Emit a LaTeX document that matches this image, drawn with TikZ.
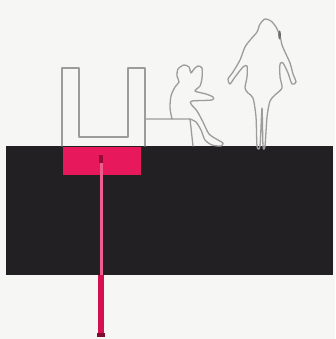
\documentclass[tikz,border=0pt]{standalone}
\definecolor{slab}{HTML}{232024}
\definecolor{hotpink}{HTML}{E8185C}
\definecolor{rodpink}{HTML}{D4104F}
\definecolor{figgray}{HTML}{9C9C9C}
\definecolor{paper}{HTML}{F6F6F4}
\begin{document}
\begin{tikzpicture}[x=1pt, y=-1pt, line join=round, line cap=round,
    outline/.style={draw=figgray, line width=1.3pt},
    person/.style={outline, smooth, tension=0.45}]
  \fill[paper] (0,0) rectangle (335,339);
  \useasboundingbox (0,0) rectangle (335,339);

  \coordinate (g1) at (6,146);
  \coordinate (g2) at (333,275);
  \coordinate (p1) at (63,147);
  \coordinate (p2) at (141,175);
  \coordinate (rodtop) at (101,156);
  \coordinate (rodmid) at (101,275);
  \coordinate (rodend) at (101,334);

  % ground slab and pink head plate
  \fill[slab] (g1) rectangle (g2);
  \fill[hotpink] (p1) rectangle (p2);
  \draw[hotpink!70!white, line width=3pt] (rodtop) -- (rodmid);
  \draw[rodpink, line width=6.5pt, line cap=butt] (rodmid) -- (rodend);
  \fill[rodpink!60!black] (97,333) rectangle (105,337);
  \fill[rodpink!70!black] (99,155) rectangle (103,163);

  % trough
  \draw[outline] (62,146) -- (62,68) -- (79,68) -- (79,137) -- (128,137)
    -- (128,68) -- (145,68) -- (145,146);

  % bench
  \draw[outline] (145,119) -- (190,119) -- (193,146);

  % sitting figure
  \draw[person] plot coordinates {(172,119) (170,108) (171,96) (175,87)
    (179,82) (177,76) (178,69) (184,65) (189,67) (191,73) (194,69)
    (198,66) (202,68) (202,78) (200,86) (195,91) (206,94) (213,97)
    (212,100) (192,101) (191,104) (197,111) (203,122) (209,134)
    (218,140) (223,143) (221,146) (212,145) (205,140) (201,130)
    (196,122) (190,119)};

  % standing figure
  \draw[person] plot[smooth cycle] coordinates {(257,146) (256,117)
    (253,98) (248,93) (245,88) (247,77) (247,66) (243,67) (235,77)
    (230,84) (228,79) (233,72) (240,60) (245,47) (251,39) (257,32)
    (260,24) (265,19) (271,21) (276,27) (280,36) (282,45) (285,52)
    (290,63) (293,74) (296,82) (292,84) (288,73) (283,63) (280,64)
    (280,77) (282,88) (275,95) (270,101) (267,117) (265,146) (263,146)
    (262,108) (260,146)};
  \fill[figgray!70!black] (279.6,35) ellipse (1.4pt and 4.5pt);
\end{tikzpicture}
\end{document}
